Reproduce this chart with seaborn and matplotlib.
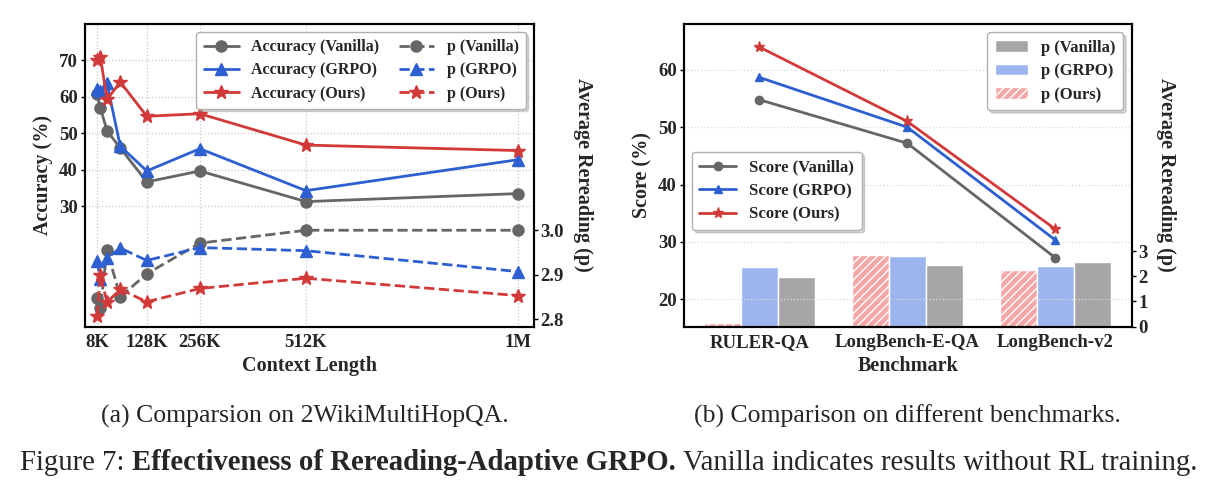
import numpy as np
import pandas as pd
import matplotlib
matplotlib.use("Agg")
import matplotlib.pyplot as plt
import seaborn as sns
from matplotlib.ticker import FormatStrFormatter

# ---------------- data: (a) 2WikiMultiHopQA ----------------
context_k = [8, 16, 32, 64, 128, 256, 512, 1024]
xtick_k = [8, 128, 256, 512, 1024]
xtick_labels = ["8K", "128K", "256K", "512K", "1M"]

acc_vanilla = [60.7, 57.0, 50.7, 46.0, 36.7, 39.7, 31.3, 33.5]
acc_grpo = [62.2, 61.5, 63.7, 46.5, 39.7, 45.8, 34.3, 42.8]
acc_ours = [70.2, 71.0, 59.3, 64.1, 54.7, 55.4, 46.8, 45.3]

p_vanilla = [2.848, 2.825, 2.955, 2.850, 2.902, 2.971, 3.000, 3.000]
p_grpo = [2.930, 2.891, 2.937, 2.960, 2.932, 2.961, 2.954, 2.907]
p_ours = [2.807, 2.900, 2.838, 2.867, 2.839, 2.869, 2.892, 2.853]

# ---------------- data: (b) benchmarks ----------------
benchmarks = ["RULER-QA", "LongBench-E-QA", "LongBench-v2"]
score_vanilla = [54.8, 47.2, 27.2]
score_grpo = [58.7, 50.0, 30.3]
score_ours = [64.0, 51.0, 32.2]

pbar_vanilla = [1.96, 2.45, 2.58]
pbar_grpo = [2.38, 2.82, 2.42]
pbar_ours = [0.13, 2.86, 2.24]

# ---------------- style ----------------
sns.set_theme(style="white")
plt.rcParams["font.family"] = ["Liberation Serif", "DejaVu Serif"]
plt.rcParams["font.weight"] = "bold"
plt.rcParams["axes.labelweight"] = "bold"
plt.rcParams["hatch.linewidth"] = 1.0

C_GRAY = "#666666"
C_BLUE = "#2d5fd0"
C_RED = "#d23a3a"
B_GRAY = "#a6a6a6"
B_BLUE = "#9db5ef"
B_RED = "#f4a7a7"

TICK_FS = 13.5
LABEL_FS = 14.5
LEG_FS = 11.5

fig = plt.figure(figsize=(12.19, 5.01), dpi=100)

def style_axes(ax):
    for s in ax.spines.values():
        s.set_color("black")
        s.set_linewidth(1.5)
    ax.tick_params(axis="both", which="major", labelsize=TICK_FS, length=3,
                   width=1, color="black", pad=2, direction="out")

shadow_props = {"color": "0.55", "alpha": 0.35}

# ================= (a) =================
axL = fig.add_axes([0.0696, 0.3479, 0.3683, 0.6042])
axL2 = axL.twinx()

for vals, col, mk, ms, lab in [
    (acc_vanilla, C_GRAY, "o", 8, "Accuracy (Vanilla)"),
    (acc_grpo, C_BLUE, "^", 8, "Accuracy (GRPO)"),
    (acc_ours, C_RED, "*", 10, "Accuracy (Ours)"),
]:
    sns.lineplot(x=context_k, y=vals, ax=axL, color=col, marker=mk, markersize=ms,
                 mec=col, mew=1, linewidth=2, label=lab)

for vals, col, mk, ms, lab in [
    (p_vanilla, C_GRAY, "o", 8, "p (Vanilla)"),
    (p_grpo, C_BLUE, "^", 8, "p (GRPO)"),
    (p_ours, C_RED, "*", 10, "p (Ours)"),
]:
    sns.lineplot(x=context_k, y=vals, ax=axL2, color=col, marker=mk, markersize=ms,
                 mec=col, mew=1, linewidth=2, linestyle="--", label=lab)

for a in (axL, axL2):
    if a.get_legend() is not None:
        a.get_legend().remove()

axL.set_xlim(-21.5, 1062)
axL.set_ylim(-3, 80)
axL.set_yticks([30, 40, 50, 60, 70])
axL.set_xticks(xtick_k, xtick_labels)
axL2.set_ylim(2.783, 3.464)
axL2.set_yticks([2.8, 2.9, 3.0])
axL2.yaxis.set_major_formatter(FormatStrFormatter("%.1f"))
axL.grid(True, linestyle=":", color="#c8c8c8", linewidth=0.9)
axL2.grid(False)

axL.set_xlabel("Context Length", fontsize=LABEL_FS, fontweight="bold", labelpad=4)
axL.set_ylabel("Accuracy (%)", fontsize=LABEL_FS, fontweight="bold", labelpad=4)
axL2.set_ylabel("Average Rereading (p)", fontsize=LABEL_FS, fontweight="bold",
                rotation=270, va="bottom", labelpad=6)
style_axes(axL)
style_axes(axL2)

h1, l1 = axL.get_legend_handles_labels()
h2, l2 = axL2.get_legend_handles_labels()
legL = axL2.legend(h1 + h2, l1 + l2, ncol=2, loc="upper right",
                   frameon=True, fancybox=True, edgecolor="#b0b0b0", framealpha=1,
                   handlelength=2.2, handletextpad=0.8, columnspacing=1.2,
                   labelspacing=0.45, borderpad=0.45, shadow=shadow_props,
                   prop={"weight": "bold", "size": LEG_FS})

# ================= (b) =================
axR = fig.add_axes([0.5608, 0.3479, 0.3676, 0.6042])
axR2 = axR.twinx()

bar_df = pd.DataFrame({
    "Benchmark": benchmarks * 3,
    "Method": ["p (Ours)"] * 3 + ["p (GRPO)"] * 3 + ["p (Vanilla)"] * 3,
    "p": pbar_ours + pbar_grpo + pbar_vanilla,
})
sns.barplot(data=bar_df, x="Benchmark", y="p", hue="Method",
            hue_order=["p (Ours)", "p (GRPO)", "p (Vanilla)"],
            palette=[B_RED, B_BLUE, B_GRAY], width=0.75, saturation=1,
            edgecolor="white", linewidth=1, ax=axR2, legend=False)
for bar in axR2.containers[0]:
    bar.set_hatch("////")

xpos = np.arange(len(benchmarks))
for vals, col, mk, ms, lab in [
    (score_vanilla, C_GRAY, "o", 6, "Score (Vanilla)"),
    (score_grpo, C_BLUE, "^", 6, "Score (GRPO)"),
    (score_ours, C_RED, "*", 8, "Score (Ours)"),
]:
    sns.lineplot(x=xpos, y=vals, ax=axR, color=col, marker=mk, markersize=ms,
                 mec=col, mew=1, linewidth=2, label=lab)
if axR.get_legend() is not None:
    axR.get_legend().remove()

axR.set_zorder(axR2.get_zorder() + 1)
axR.patch.set_visible(False)

axR.set_xlim(-0.51, 2.515)
axR.set_ylim(15.2, 68)
axR.set_yticks([20, 30, 40, 50, 60])
axR.set_xticks(xpos, benchmarks)
axR2.set_ylim(0, 12)
axR2.set_yticks([0, 1, 2, 3])
axR.yaxis.grid(True, linestyle=":", color="#dcdcdc", linewidth=0.9)
axR.xaxis.grid(False)
axR2.grid(False)

axR.set_xlabel("Benchmark", fontsize=LABEL_FS, fontweight="bold", labelpad=4)
axR.set_ylabel("Score (%)", fontsize=LABEL_FS, fontweight="bold", labelpad=4)
axR2.set_ylabel("Average Rereading (p)", fontsize=LABEL_FS, fontweight="bold",
                rotation=270, va="bottom", labelpad=6)
axR2.set_xlabel("")
style_axes(axR)
style_axes(axR2)

hl, ll = axR.get_legend_handles_labels()
legLines = axR.legend(hl, ll, loc="center left", bbox_to_anchor=(0.0, 0.448),
                      frameon=True, fancybox=True, edgecolor="#b0b0b0", framealpha=1,
                      handlelength=2.2, handletextpad=0.8, labelspacing=0.45,
                      borderpad=0.45, shadow=shadow_props,
                      prop={"weight": "bold", "size": 12})
axR.add_artist(legLines)
bar_handles = [axR2.containers[2], axR2.containers[1], axR2.containers[0]]
axR.legend(bar_handles, ["p (Vanilla)", "p (GRPO)", "p (Ours)"], loc="upper right",
           frameon=True, fancybox=True, edgecolor="#b0b0b0", framealpha=1,
           handlelength=2.0, handletextpad=0.8, labelspacing=0.45, borderpad=0.45,
           shadow=shadow_props, prop={"weight": "bold", "size": 12})

# ================= captions =================
W, H = 1219.0, 501.0
fig.text(305 / W, 1 - 416.5 / H, "(a) Comparsion on 2WikiMultiHopQA.",
         ha="center", va="center", fontsize=18.5, fontweight="normal")
fig.text(907 / W, 1 - 416.5 / H, "(b) Comparison on different benchmarks.",
         ha="center", va="center", fontsize=18.5, fontweight="normal")

cap_fs = 20.7
parts = [("Figure 7:", "normal"),
         ("Effectiveness of Rereading-Adaptive GRPO.", "bold"),
         ("Vanilla indicates results without RL training.", "normal")]
renderer = fig.canvas.get_renderer()
texts = []
widths = []
for s, w in parts:
    t = fig.text(0, 1 - 463 / H, s, ha="left", va="center", fontsize=cap_fs, fontweight=w)
    bb = t.get_window_extent(renderer=renderer)
    texts.append(t)
    widths.append(bb.width)
space_px = 0.25 * cap_fs * 100 / 72.0
total = sum(widths) + space_px * (len(parts) - 1)
x = 609 - total / 2
for t, wpx in zip(texts, widths):
    t.set_x(x / W)
    x += wpx + space_px

fig.savefig("out.png", dpi=100)
